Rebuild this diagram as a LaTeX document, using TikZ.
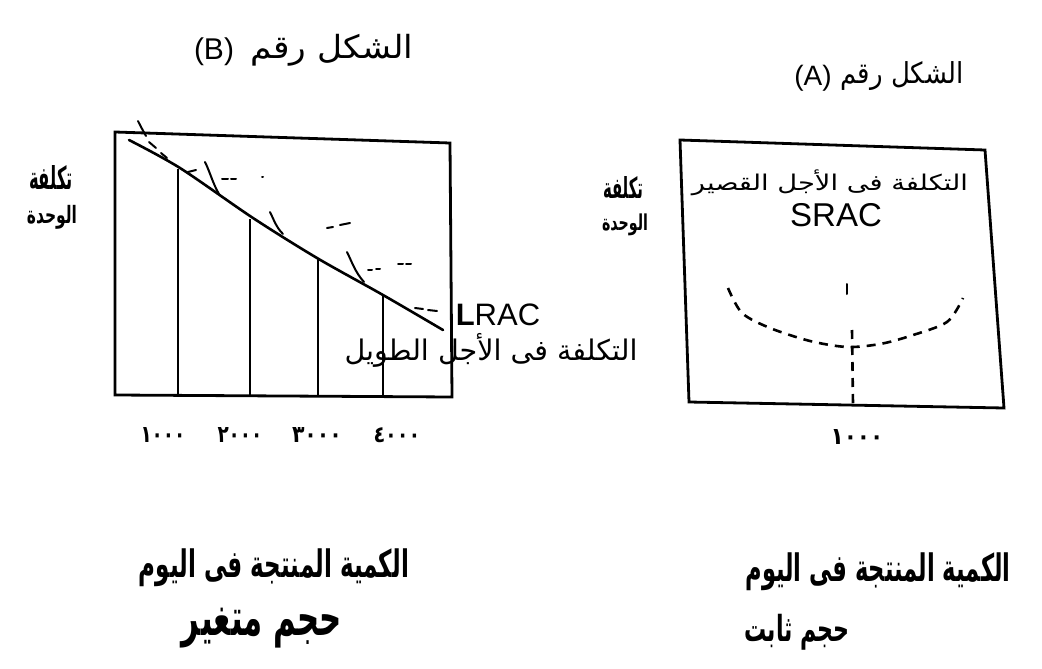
\documentclass[tikz,border=0pt]{standalone}
\usepackage{fontspec}
\setmainfont{Liberation Sans}
\newfontfamily\arabicfont[Script=Arabic]{DejaVu Sans}
\TeXXeTstate=1
\newcommand{\arnum}[2]{\resizebox*{#1}{15pt}{\arabicfont\bfseries #2}}
\begin{document}
\begin{tikzpicture}[x=1pt,y=-1pt,
  lbl/.style={inner sep=0pt, outer sep=0pt},
  frame/.style={line width=2.8pt, line join=miter},
  lcurve/.style={line width=2.6pt, line cap=round},
  vline/.style={line width=2.6pt},
  tickc/.style={line width=2pt, line cap=round},
  speck/.style={line width=2pt, line cap=round},
  dashc/.style={line width=2.6pt, dash pattern=on 9pt off 7pt}]
\useasboundingbox[fill=white] (0,0) rectangle (1042,669);

% ---------- Figure B ----------
\node[lbl] (titleBar) at (332,50) {\resizebox*{163pt}{32pt}{\arabicfont\beginR الشكل رقم\endR}};
\node[lbl, font=\fontsize{30}{32}\selectfont] (titleBlat) at (214,52) {(B)};

\draw[frame] (115,132) -- (450,143) -- (452,397) -- (115,395) -- cycle;
\draw[lcurve] plot[smooth] coordinates {(129,140) (180,168) (253,218) (317,258) (383,295) (443,330)};
\draw[vline] (178,169) -- (178,395);
\draw[vline] (250,219) -- (250,396);
\draw[vline] (318,259) -- (318,396);
\draw[vline] (383,296) -- (383,396);
% short-run curve fragments
\draw[tickc] (138,121) .. controls (141,127) .. (146,136);
\draw[tickc] (205,162) .. controls (210,172) and (213,184) .. (219,194);
\draw[tickc] (270,212) .. controls (274,220) and (276,227) .. (283,234);
\draw[tickc] (347,252) .. controls (352,262) and (355,272) .. (364,282);
\draw[speck] (149,142) -- (156,148);
\draw[speck] (161,153) -- (167,158);
\draw[speck] (188,172) -- (196,170);
\draw[speck] (222,179) -- (228,179);
\draw[speck] (231,179) -- (236,179);
\draw[speck] (262,177) -- (263,177);
\draw[speck] (327,228) -- (333,227);
\draw[speck] (340,225) -- (350,223);
\draw[speck] (368,270) -- (372,270);
\draw[speck] (376,269) -- (380,269);
\draw[speck] (398,264) -- (403,264);
\draw[speck] (406,264) -- (411,264);
\draw[speck] (415,308) -- (423,309);
\draw[speck] (428,310) -- (437,311);

\node[lbl, font=\fontsize{31}{33}\selectfont] (lrac) at (498,315) {\textbf{L}RAC};
\node[lbl] (lracar) at (491,350) {\resizebox*{293pt}{34pt}{\arabicfont\beginR التكلفة فى الأجل الطويل\endR}};

\node[lbl] (ybB1) at (51,177) {\resizebox*{44pt}{24pt}{\arabicfont\bfseries\beginR تكلفة\endR}};
\node[lbl] (ybB2) at (52,217) {\resizebox*{50pt}{24pt}{\arabicfont\bfseries\beginR الوحدة\endR}};

\node[lbl] (xb1) at (163,435) {\arnum{45pt}{١٠٠٠}};
\node[lbl] (xb2) at (240,435) {\arnum{45pt}{٢٠٠٠}};
\node[lbl] (xb3) at (317,435) {\arnum{50pt}{٣٠٠٠}};
\node[lbl] (xb4) at (397,435) {\arnum{47pt}{٤٠٠٠}};

\node[lbl] (botB1) at (274,568) {\resizebox*{270pt}{38pt}{\arabicfont\bfseries\beginR الكمية المنتجة فى اليوم\endR}};
\node[lbl] (botB2) at (262,628) {\resizebox*{160pt}{40pt}{\arabicfont\bfseries\beginR حجم متغير\endR}};

% ---------- Figure A ----------
\node[lbl] (titleAar) at (902,76) {\resizebox*{123pt}{29pt}{\arabicfont\beginR الشكل رقم\endR}};
\node[lbl, font=\fontsize{28}{30}\selectfont] (titleAlat) at (813,78) {(A)};

\draw[frame] (680,140) -- (985,150) -- (1004,408) -- (689,402) -- cycle;
\node[lbl] (srcar) at (830,183) {\resizebox*{276pt}{26pt}{\arabicfont\beginR التكلفة فى الأجل القصير\endR}};
\node[lbl, font=\fontsize{33}{35}\selectfont] (srac) at (836,215) {SRAC};
\draw[dashc] plot[smooth] coordinates {(728,288) (742,313) (770,328) (810,341) (847,347) (880,344) (910,336) (947,322) (963,298)};
\draw[dashc] (852,330) -- (853,404);
\draw[speck] (847,284) -- (847,294);

\node[lbl] (ybA1) at (623,187) {\resizebox*{40pt}{22pt}{\arabicfont\bfseries\beginR تكلفة\endR}};
\node[lbl] (ybA2) at (625,225) {\resizebox*{46pt}{22pt}{\arabicfont\bfseries\beginR الوحدة\endR}};

\node[lbl] (xa1) at (857,437) {\arnum{53pt}{١٠٠٠}};

\node[lbl] (botA1) at (878,572) {\resizebox*{265pt}{38pt}{\arabicfont\bfseries\beginR الكمية المنتجة فى اليوم\endR}};
\node[lbl] (botA2) at (797,632) {\resizebox*{105pt}{36pt}{\arabicfont\bfseries\beginR حجم ثابت\endR}};
\end{tikzpicture}
\end{document}
